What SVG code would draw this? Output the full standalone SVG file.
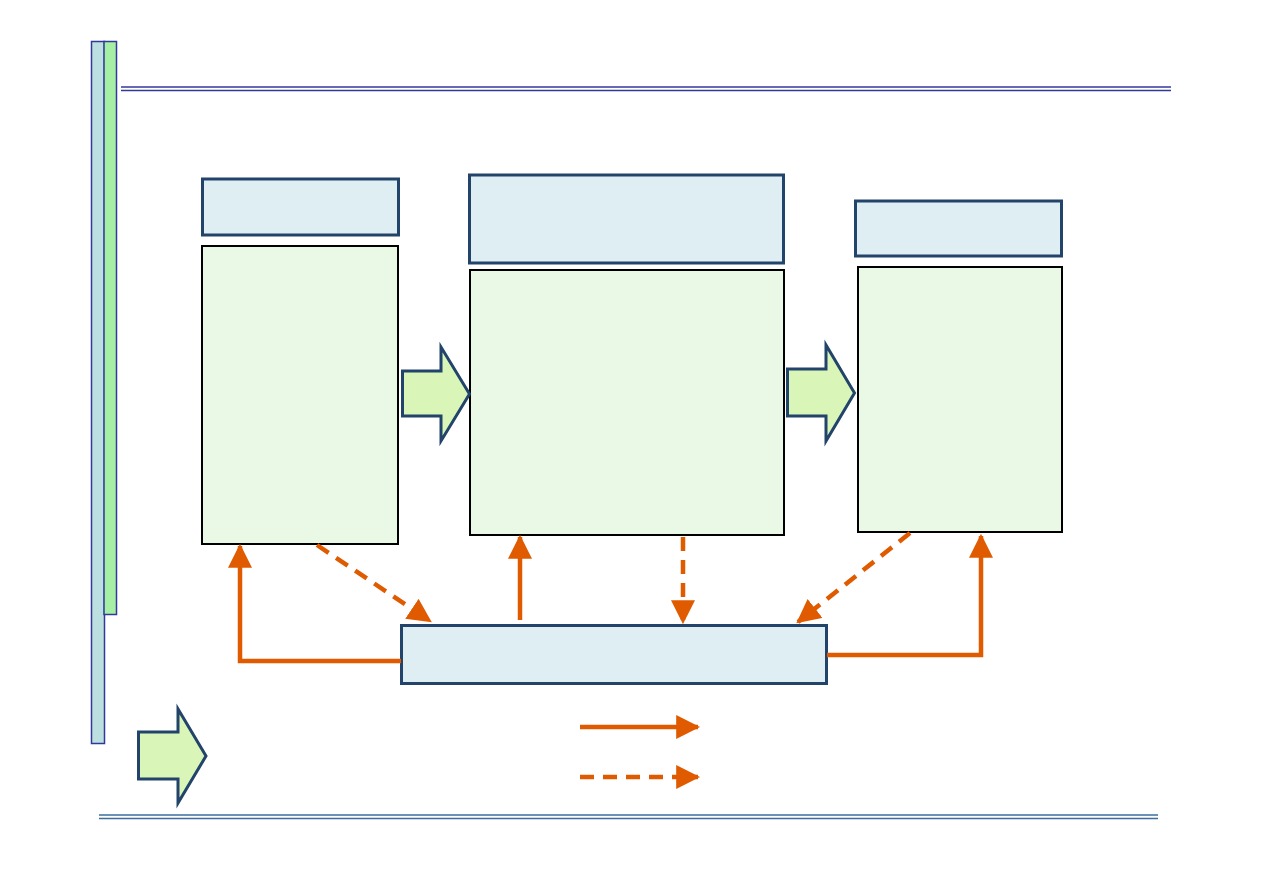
<svg xmlns="http://www.w3.org/2000/svg" width="1263" height="893" viewBox="0 0 1263 893">
<style>
.hdr{fill:#DFEEF2;stroke:#22446A;stroke-width:3}
.body{fill:#EAF8E6;stroke:#000;stroke-width:2}
.blk{fill:#D9F5B8;stroke:#22446A;stroke-width:3;stroke-linejoin:miter}
.con{fill:none;stroke:#E05A00;stroke-width:4.5}
.dash{stroke-dasharray:14 9}
</style>
<defs>
<marker id="ah" markerUnits="userSpaceOnUse" markerWidth="24" markerHeight="24" viewBox="0 0 22 22" refX="20" refY="11" orient="auto">
<path d="M0,0 L22,11 L0,22 Z" fill="#E05A00"/>
</marker>
</defs>
<rect x="0" y="0" width="1263" height="893" fill="#fff"/>
<g id="decor">
<rect x="91.5" y="41.5" width="13" height="702" fill="#BCE0E0" stroke="#33399A" stroke-width="1.5"/>
<rect x="104" y="41.5" width="12.5" height="573" fill="#A5F0A5" stroke="#33399A" stroke-width="1.5"/>
<line x1="121" y1="87" x2="1171" y2="87" stroke="#33399A" stroke-width="1.5"/>
<line x1="121" y1="90.5" x2="1171" y2="90.5" stroke="#33399A" stroke-width="1.5"/>
<line x1="99" y1="815" x2="1158" y2="815" stroke="#3D6E9E" stroke-width="1.5"/>
<line x1="99" y1="818.5" x2="1158" y2="818.5" stroke="#3D6E9E" stroke-width="1.5"/>
</g>
<g id="node-left">
<rect class="hdr" x="202.5" y="179" width="196" height="56"/>
<rect class="body" x="202" y="246" width="196" height="298"/>
</g>
<g id="node-center">
<rect class="hdr" x="469.5" y="175" width="314" height="88"/>
<rect class="body" x="470" y="270" width="314" height="265"/>
</g>
<g id="node-right">
<rect class="hdr" x="855.5" y="201" width="206" height="55"/>
<rect class="body" x="858" y="267" width="204" height="265"/>
</g>
<g id="node-bottom">
<rect class="hdr" x="401.5" y="625.5" width="425" height="58"/>
</g>
<g id="block-arrow-1">
<path class="blk" d="M402.5,371 L441,371 L441,347 L469.5,394 L441,441 L441,416 L402.5,416 Z"/>
</g>
<g id="block-arrow-2">
<path class="blk" d="M787.5,369 L826,369 L826,345 L854.5,393 L826,441 L826,416 L787.5,416 Z"/>
</g>
<g id="legend-block-arrow">
<path class="blk" d="M138.5,732 L178,732 L178,709 L206,756 L178,803 L178,779 L138.5,779 Z"/>
</g>
<g id="connectors">
<polyline class="con" points="401,661 240,661 240,546" marker-end="url(#ah)"/>
<line class="con dash" x1="317" y1="545" x2="430" y2="621" marker-end="url(#ah)"/>
<line class="con" x1="520" y1="620" x2="520" y2="537" marker-end="url(#ah)"/>
<line class="con dash" x1="683" y1="537" x2="683" y2="622" marker-end="url(#ah)"/>
<line class="con dash" x1="910" y1="533" x2="798" y2="622" marker-end="url(#ah)"/>
<polyline class="con" points="827,655 981,655 981,536" marker-end="url(#ah)"/>
<line class="con" x1="580" y1="727" x2="698" y2="727" marker-end="url(#ah)"/>
<line class="con dash" x1="580" y1="777" x2="698" y2="777" marker-end="url(#ah)"/>
</g>
</svg>
